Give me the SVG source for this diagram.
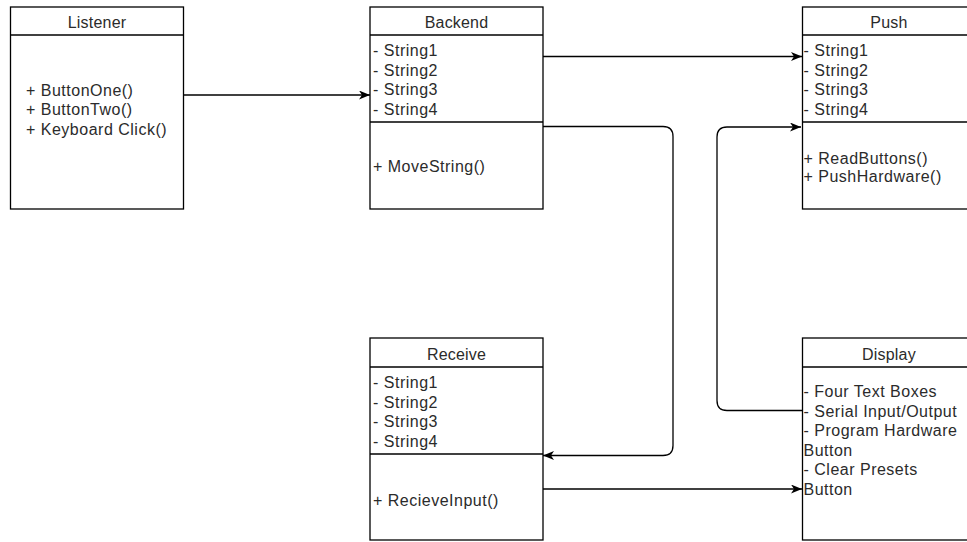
<svg xmlns="http://www.w3.org/2000/svg" width="967" height="542" viewBox="0 0 967 542">
<style>
.box{fill:#fff;stroke:#000;stroke-width:1.3}
.ln{stroke:#000;stroke-width:1.3;fill:none}
.t{font-family:"Liberation Sans",Arial,sans-serif;font-size:16px;fill:#2b2b2b;letter-spacing:0.5px}
.c{text-anchor:middle;letter-spacing:0.2px}
.conn{stroke:#000;stroke-width:1.3;fill:none;marker-end:url(#arr)}
</style>
<defs>
<marker id="arr" viewBox="0 0 11 9" refX="11" refY="4.5" markerWidth="11" markerHeight="9" markerUnits="userSpaceOnUse" orient="auto">
<path d="M0,0 L11,4.5 L0,9 L3,4.5 z" fill="#000"/>
</marker>
</defs>
<rect width="967" height="542" fill="#fff"/>
<g id="listener">
<rect class="box" x="10.5" y="7" width="173" height="202"/>
<line class="ln" x1="10.5" y1="35" x2="183.5" y2="35"/>
<text class="t c" x="97" y="27.5">Listener</text>
<text class="t" x="26" y="95.5">+ ButtonOne()</text>
<text class="t" x="26" y="115">+ ButtonTwo()</text>
<text class="t" x="26" y="134.5">+ Keyboard Click()</text>
</g>
<g id="backend">
<rect class="box" x="370" y="7" width="173" height="202"/>
<line class="ln" x1="370" y1="35" x2="543" y2="35"/>
<line class="ln" x1="370" y1="122" x2="543" y2="122"/>
<text class="t c" x="456.5" y="27.5">Backend</text>
<text class="t" x="373" y="56">- String1</text>
<text class="t" x="373" y="75.7">- String2</text>
<text class="t" x="373" y="95.4">- String3</text>
<text class="t" x="373" y="115">- String4</text>
<text class="t" x="373" y="172">+ MoveString()</text>
</g>
<g id="push">
<rect class="box" x="802.5" y="7" width="173" height="202"/>
<line class="ln" x1="802.5" y1="35" x2="975.5" y2="35"/>
<line class="ln" x1="802.5" y1="122" x2="975.5" y2="122"/>
<text class="t c" x="889" y="27.5">Push</text>
<text class="t" x="803.5" y="56">- String1</text>
<text class="t" x="803.5" y="75.7">- String2</text>
<text class="t" x="803.5" y="95.4">- String3</text>
<text class="t" x="803.5" y="115">- String4</text>
<text class="t" x="803.5" y="164">+ ReadButtons()</text>
<text class="t" x="803.5" y="182">+ PushHardware()</text>
</g>
<g id="receive">
<rect class="box" x="370" y="338" width="173" height="202"/>
<line class="ln" x1="370" y1="367" x2="543" y2="367"/>
<line class="ln" x1="370" y1="454" x2="543" y2="454"/>
<text class="t c" x="456.5" y="359.5">Receive</text>
<text class="t" x="373" y="388">- String1</text>
<text class="t" x="373" y="407.7">- String2</text>
<text class="t" x="373" y="427.4">- String3</text>
<text class="t" x="373" y="447">- String4</text>
<text class="t" x="373" y="506">+ RecieveInput()</text>
</g>
<g id="display">
<rect class="box" x="802.5" y="338" width="173" height="202"/>
<line class="ln" x1="802.5" y1="367" x2="975.5" y2="367"/>
<text class="t c" x="889" y="359.5">Display</text>
<text class="t" x="803.5" y="397">- Four Text Boxes</text>
<text class="t" x="803.5" y="416.6">- Serial Input/Output</text>
<text class="t" x="803.5" y="436.2">- Program Hardware</text>
<text class="t" x="803.5" y="455.8">Button</text>
<text class="t" x="803.5" y="475.4">- Clear Presets</text>
<text class="t" x="803.5" y="495">Button</text>
</g>
<g id="connectors">
<path class="conn" d="M183.5 95 H370"/>
<path class="conn" d="M543 56.5 H802"/>
<path class="conn" d="M543 126.5 H663 Q673 126.5 673 136.5 V445.5 Q673 455.5 663 455.5 H543"/>
<path class="conn" d="M802.5 410.5 H727 Q717 410.5 717 400.5 V137 Q717 127 727 127 H801"/>
<path class="conn" d="M543 489 H802"/>
</g>
</svg>
